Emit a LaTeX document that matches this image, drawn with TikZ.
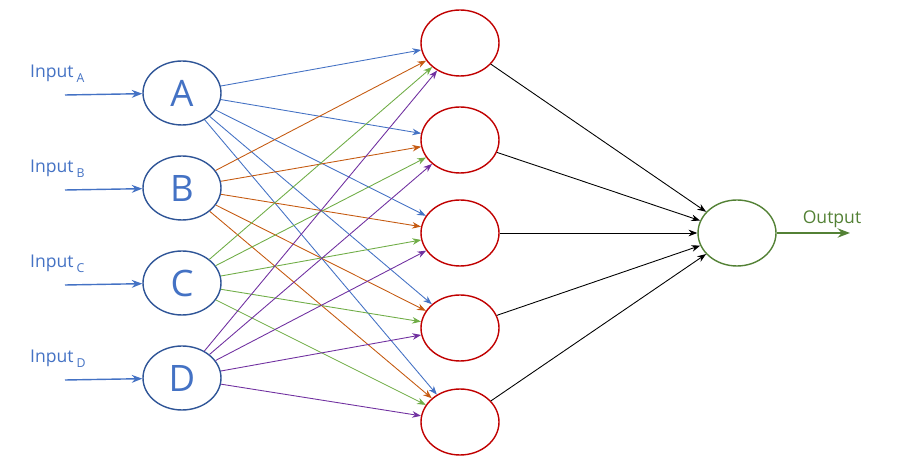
\documentclass[tikz,border=0pt]{standalone}
\usepackage{fontspec}
\setmainfont{Open Sans}
\usetikzlibrary{arrows.meta, shapes.geometric}
\definecolor{inblue}{HTML}{4472C4}
\definecolor{nodeblue}{HTML}{2F5597}
\definecolor{edgeorange}{HTML}{C55A11}
\definecolor{edgegreen}{HTML}{70AD47}
\definecolor{edgepurple}{HTML}{7030A0}
\definecolor{hidred}{HTML}{C00000}
\definecolor{outgreen}{HTML}{538135}

\begin{document}
\begin{tikzpicture}[x=0.02cm, y=-0.02cm,
    innode/.style={ellipse, draw=nodeblue, thick, minimum width=1.56cm, minimum height=1.28cm, text=inblue, font=\huge},
    hidnode/.style={ellipse, draw=hidred, thick, minimum width=1.56cm, minimum height=1.32cm},
    outnode/.style={ellipse, draw=outgreen, thick, minimum width=1.56cm, minimum height=1.32cm},
    link/.style={-{Stealth[length=5pt]}, line width=0.5pt}]
    \useasboundingbox (0,0) rectangle (899,465);

    % input layer
    \foreach \n/\y in {A/93, B/188, C/283, D/378} {
        \node[innode] (\n) at (182,\y) {\n};
        \coordinate (s\n) at (65,\y+2);
        \draw[-{Stealth[length=6pt]}, inblue, thick] (s\n) -- (\n);
        \node[text=inblue, anchor=south west, font=\normalsize] (l\n) at (24,\y-4) {Input\,\raisebox{-3pt}{\scriptsize\n}};
    }

    % hidden layer
    \foreach \h/\y in {1/43, 2/140, 3/233, 4/328, 5/422} {
        \node[hidnode] (h\h) at (460,\y) {};
    }

    % output
    \node[outnode] (out) at (737,233) {};
    \coordinate (end) at (850,233);
    \draw[-{Stealth[length=7pt]}, outgreen, line width=1.2pt] (out) -- (end);
    \node[text=outgreen, font=\normalsize] (lout) at (832,219) {Output};

    % connections
    \foreach \n/\c in {A/inblue, B/edgeorange, C/edgegreen, D/edgepurple} {
        \foreach \h in {1,...,5} {
            \draw[link, \c] (\n) -- (h\h);
        }
    }
    \foreach \h in {1,...,5} {
        \draw[link, black] (h\h) -- (out);
    }

\end{tikzpicture}
\end{document}
